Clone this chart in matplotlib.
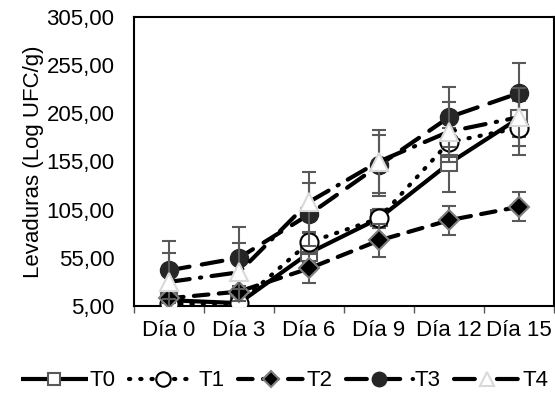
import matplotlib
matplotlib.use("Agg")
import matplotlib.pyplot as plt
import numpy as np

plt.rcParams['font.family'] = ['Liberation Sans', 'DejaVu Sans']

categories = ["Día 0", "Día 3", "Día 6", "Día 9", "Día 12", "Día 15"]
series_names = ["T0", "T1", "T2", "T3", "T4"]
T0 = [11, 8, 60, 96, 153, 200]
T1 = [7, 8, 71, 96, 175, 190]
T2 = [13, 20, 44, 73, 94, 108]
T3 = [42, 55, 100, 151, 201, 226]
T4 = [30, 40, 113, 155, 186, 201]
T0_err = [5, 5, 10, 10, 30, 20]
T1_err = [5, 5, 10, 10, 15, 28]
T2_err = [5, 6, 15, 17, 15, 15]
T3_err = [30, 32, 33, 32, 31, 31]
T4_err = [30, 30, 31, 33, 31, 30]
yticks = [5, 55, 105, 155, 205, 255, 305]
ytick_labels = ["5,00", "55,00", "105,00", "155,00", "205,00", "255,00", "305,00"]

fs = 16
fig = plt.figure(figsize=(5.55, 3.94), dpi=100)
ax = fig.add_axes([134/555, (394-306)/394, 420/555, 289/394])

x = np.arange(len(categories))
errc = '#595959'
styles = [
    dict(data=T0, err=T0_err, ls='-', marker='s', ms=11, mfc='white', mec='#595959', mew=1.5, dashes=None),
    dict(data=T1, err=T1_err, ls=':', marker='o', ms=13, mfc='white', mec='black', mew=1.5, dashes=(0.3, 2.4)),
    dict(data=T2, err=T2_err, ls='--', marker='D', ms=10, mfc='black', mec='#7f7f7f', mew=1.5, dashes=(3.5, 2.5)),
    dict(data=T3, err=T3_err, ls='--', marker='o', ms=13, mfc='#262626', mec='#262626', mew=1, dashes=(5, 3)),
    dict(data=T4, err=T4_err, ls='-.', marker='^', ms=13, mfc='white', mec='#d9d9d9', mew=1.5, dashes=(5, 2.5, 0.3, 2.5)),
]
handles = []
for i, (name, st) in enumerate(zip(series_names, styles)):
    z = 3 + i
    ax.errorbar(x, st['data'], yerr=st['err'], fmt='none', ecolor=errc, elinewidth=1.5,
                capsize=5, capthick=1.5, zorder=z)
    line, = ax.plot(x, st['data'], color='black', lw=3, ls=st['ls'], marker=st['marker'],
                    ms=st['ms'], mfc=st['mfc'], mec=st['mec'], mew=st['mew'], zorder=z + 0.5,
                    label=name, solid_capstyle='butt')
    if st['dashes'] is not None:
        line.set_dashes(st['dashes'])
        line.set_dash_capstyle('round')
    handles.append(line)

ax.set_xlim(-0.5, len(categories) - 0.5)
ax.set_ylim(5, 305)
ax.set_yticks(yticks)
ax.set_yticklabels(ytick_labels, fontsize=fs)
ax.tick_params(axis='y', length=0, pad=14)
ax.set_xticks(x)
ax.set_xticklabels(categories, fontsize=fs)
ax.set_xticks(np.arange(len(categories) + 1) - 0.5, minor=True)
ax.tick_params(axis='x', which='major', length=0, pad=10)
ax.tick_params(axis='x', which='minor', length=5, width=1, color='#595959')
ax.set_ylabel("Levaduras (Log UFC/g)", fontsize=fs, labelpad=2)
for sp in ax.spines.values():
    sp.set_linewidth(1.5)
    sp.set_color('black')

fig.legend(handles=handles, labels=series_names, loc='center', bbox_to_anchor=(285/555, 1 - 381/394),
           ncol=5, frameon=False, fontsize=fs, handlelength=3.0, handletextpad=0.1,
           columnspacing=0.6, markerscale=0.8)

fig.savefig("out.png", dpi=100)
